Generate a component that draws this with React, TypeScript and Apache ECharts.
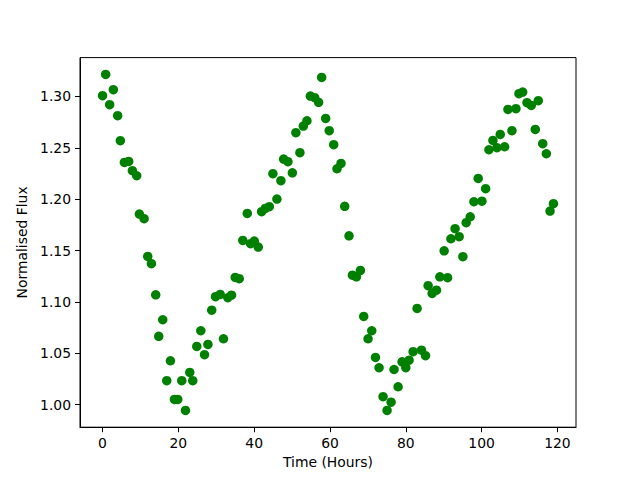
import React, { useEffect, useRef } from "react";
import * as echarts from "echarts";

const timeHours: number[] = [
  0.0, 0.82, 1.88, 2.85, 3.99, 4.7, 5.76, 6.9, 7.87, 9.01,
  9.72, 10.96, 11.92, 12.89, 14.03, 14.82, 15.88, 16.94, 17.91, 18.97,
  19.84, 20.9, 21.88, 23.01, 23.8, 24.86, 25.92, 26.9, 27.8, 28.8,
  29.8, 31.04, 31.9, 33.05, 34.03, 35.0, 36.06, 37.0, 38.18, 39.05,
  40.03, 41.08, 41.96, 42.93, 43.99, 44.94, 46.0, 47.05, 47.77, 48.9,
  50.07, 51.0, 52.07, 52.97, 53.92, 54.82, 55.96, 57.0, 57.8, 58.86,
  59.8, 60.98, 61.85, 62.91, 63.88, 65.02, 65.92, 66.97, 68.03, 68.9,
  70.04, 71.02, 72.0, 72.95, 74.0, 75.06, 76.12, 76.9, 77.97, 79.02,
  80.0, 80.87, 81.93, 82.98, 84.15, 85.2, 85.89, 86.95, 88.1, 88.98,
  90.12, 91.02, 91.9, 93.0, 94.08, 95.06, 95.93, 96.99, 97.97, 99.1,
  100.08, 101.06, 101.93, 102.98, 104.04, 104.91, 106.07, 106.95, 108.0, 109.06,
  109.85, 110.83, 111.97, 113.1, 114.16, 114.95, 116.12, 117.07, 118.05, 118.95,
];

const normalisedFlux: number[] = [
  1.3007, 1.3214, 1.2919, 1.3065, 1.2812, 1.2569, 1.2358, 1.2367, 1.2277, 1.2228,
  1.1855, 1.181, 1.1443, 1.1372, 1.107, 1.0666, 1.0827, 1.0234, 1.0428, 1.0052,
  1.0052, 1.0234, 0.9945, 1.0314, 1.0234, 1.0567, 1.072, 1.0487, 1.0587, 1.092,
  1.1051, 1.1073, 1.0642, 1.1041, 1.1066, 1.1239, 1.1226, 1.1599, 1.1861, 1.1567,
  1.1592, 1.1534, 1.1878, 1.191, 1.1927, 1.2248, 1.2001, 1.218, 1.239, 1.2365,
  1.2257, 1.2647, 1.2452, 1.2711, 1.2763, 1.3003, 1.2987, 1.2942, 1.3185, 1.2786,
  1.2666, 1.253, 1.2296, 1.2348, 1.193, 1.1644, 1.1261, 1.1245, 1.1307, 1.0859,
  1.0642, 1.072, 1.046, 1.036, 1.0078, 0.9945, 1.0025, 1.0343, 1.0175, 1.0418,
  1.036, 1.0434, 1.0516, 1.0937, 1.0531, 1.0477, 1.1158, 1.1083, 1.1115, 1.1245,
  1.1498, 1.1236, 1.1615, 1.1713, 1.1635, 1.144, 1.1771, 1.1829, 1.1975, 1.2202,
  1.1981, 1.2102, 1.2481, 1.2572, 1.2501, 1.263, 1.251, 1.2873, 1.2666, 1.288,
  1.3026, 1.3042, 1.2939, 1.2912, 1.2679, 1.2958, 1.254, 1.2442, 1.1884, 1.1956,
];

const xTickValues: number[] = [0, 20, 40, 60, 80, 100, 120];
const yTickValues: number[] = [1.0, 1.05, 1.1, 1.15, 1.2, 1.25, 1.3];

const FONT = "DejaVu Sans";
const FS = 13.9;

export default function App() {
  const ref = useRef<HTMLDivElement>(null);

  useEffect(() => {
    if (!ref.current) return;
    const chart = echarts.init(ref.current, undefined, { renderer: "svg" });

    const xmin = Math.min(...timeHours);
    const xmax = Math.max(...timeHours);
    const ymin = Math.min(...normalisedFlux);
    const ymax = Math.max(...normalisedFlux);
    const xm = (xmax - xmin) * 0.05;
    const ym = (ymax - ymin) * 0.05;

    const data = timeHours.map((t, i) => [t, normalisedFlux[i]]);

    const axisText = { color: "#000", fontFamily: FONT, fontSize: FS };

    chart.setOption({
      animation: false,
      backgroundColor: "#fff",
      grid: {
        left: 80,
        right: 64,
        top: 57.6,
        bottom: 52.8,
        show: true,
        borderColor: "#000",
        borderWidth: 1,
        backgroundColor: "transparent",
      },
      xAxis: {
        type: "value",
        min: xmin - xm,
        max: xmax + xm,
        name: "Time (Hours)",
        nameLocation: "middle",
        nameGap: 28,
        nameTextStyle: axisText,
        splitLine: { show: false },
        axisLine: { show: true, onZero: false, lineStyle: { color: "#000", width: 1 } },
        axisTick: {
          show: true,
          inside: false,
          length: 5,
          customValues: xTickValues,
          lineStyle: { color: "#000", width: 1 },
        },
        axisLabel: {
          ...axisText,
          margin: 9,
          customValues: xTickValues,
          formatter: (v: number) => String(Math.round(v)),
        },
      },
      yAxis: {
        type: "value",
        min: ymin - ym,
        max: ymax + ym,
        name: "Normalised Flux",
        nameLocation: "middle",
        nameGap: 43,
        nameRotate: 90,
        nameTextStyle: axisText,
        splitLine: { show: false },
        axisLine: { show: true, onZero: false, lineStyle: { color: "#000", width: 1 } },
        axisTick: {
          show: true,
          inside: false,
          length: 5,
          customValues: yTickValues,
          lineStyle: { color: "#000", width: 1 },
        },
        axisLabel: {
          ...axisText,
          margin: 9,
          customValues: yTickValues,
          formatter: (v: number) => v.toFixed(2),
        },
      },
      series: [
        {
          type: "scatter",
          data,
          symbol: "circle",
          symbolSize: 9.5,
          itemStyle: { color: "#008000", opacity: 1 },
        },
      ],
    });

    return () => {
      chart.dispose();
    };
  }, []);

  return (
    <div
      ref={ref}
      style={{ position: "fixed", left: 0, top: 0, width: 640, height: 480, background: "#fff" }}
    />
  );
}
